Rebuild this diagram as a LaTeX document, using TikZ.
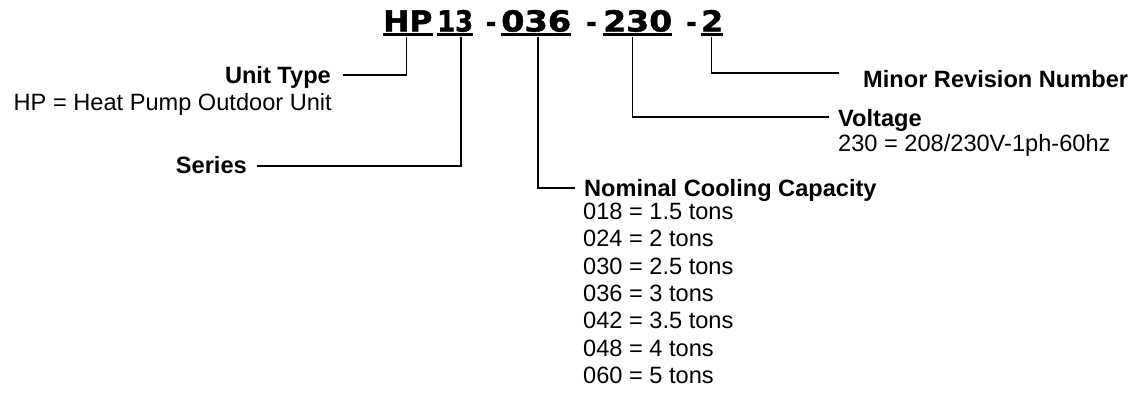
\documentclass[tikz,border=0pt]{standalone}
\usepackage{graphicx}
\usepackage{fontspec}
\setmainfont{Liberation Sans}
\newfontfamily\titlefont{DejaVu Sans}[BoldFeatures={FakeBold=1.6}]
\begin{document}
\begin{tikzpicture}[x=1pt,y=-1pt,
  lbl/.style={inner sep=0pt, font=\fontsize{23.6}{27.2}\selectfont\bfseries},
  txt/.style={inner sep=0pt, font=\fontsize{23.6}{27.2}\selectfont},
  tok/.style={inner sep=0pt, anchor=base west, font=\titlefont\bfseries\fontsize{29}{32}\selectfont},
  dashtok/.style={inner sep=0pt, anchor=base, font=\titlefont\bfseries\fontsize{26}{30}\selectfont},
  ul/.style={line width=2.5pt},
  conn/.style={line width=1.4pt}]
\useasboundingbox (0,0) rectangle (1138,392);
% code tokens
\node[tok] (hp) at (383,31.5) {\scalebox{1.08}[1]{HP}};
\node[tok] (ser) at (437,31.5) {\scalebox{0.89}[1]{13}};
\node[dashtok] (d1) at (491,31.5) {-};
\node[tok] (cap) at (501,31.5) {\scalebox{1.155}[1]{036}};
\node[dashtok] (d2) at (591.5,31.5) {-};
\node[tok] (volt) at (603,31.5) {\scalebox{1.14}[1]{230}};
\node[dashtok] (d3) at (691.5,31.5) {-};
\node[tok] (rev) at (701,31.5) {\scalebox{1.09}[1]{2}};
\foreach \n in {hp,ser,cap,volt,rev}
  \draw[ul] ([yshift=-2.8pt]\n.base west) -- ([yshift=-2.8pt]\n.base east);
% labels
\node[lbl, anchor=base east] (ut) at (331,83) {Unit Type};
\node[txt, anchor=base east] (utd) at (332,110) {HP = Heat Pump Outdoor Unit};
\node[lbl, anchor=base east] (se) at (247,173) {Series};
\node[lbl, anchor=base west] (mr) at (863,87) {Minor Revision Number};
\node[lbl, anchor=base west] (vo) at (838,126) {Voltage};
\node[txt, anchor=base west] (vod) at (838,151.5) {230 = 208/230V-1ph-60hz};
\node[lbl, anchor=base west] (nc) at (584,196) {Nominal Cooling Capacity};
\foreach \t [count=\i from 0] in {018 = 1.5 tons, 024 = 2 tons, 030 = 2.5 tons, 036 = 3 tons, 042 = 3.5 tons, 048 = 4 tons, 060 = 5 tons}
  \node[txt, anchor=base west] (nc\i) at (583,219.5+27.3*\i) {\t};
% connectors
\draw[conn] ([xshift=-1pt,yshift=-5.5pt]hp.base) |- ([xshift=12pt,yshift=8pt]ut.base east);
\draw[conn] ([xshift=6pt,yshift=-5.5pt]ser.base) |- ([xshift=10pt,yshift=7pt]se.base east);
\draw[conn] ([xshift=2pt,yshift=-5.5pt]cap.base) |- ([xshift=-9pt,yshift=8pt]nc.base west);
\draw[conn] ([xshift=-5.5pt,yshift=-5.5pt]volt.base) |- ([xshift=-9pt,yshift=9pt]vo.base west);
\draw[conn] ([xshift=-1pt,yshift=-5.5pt]rev.base) |- ([xshift=-24pt,yshift=14pt]mr.base west);
\end{tikzpicture}
\end{document}
